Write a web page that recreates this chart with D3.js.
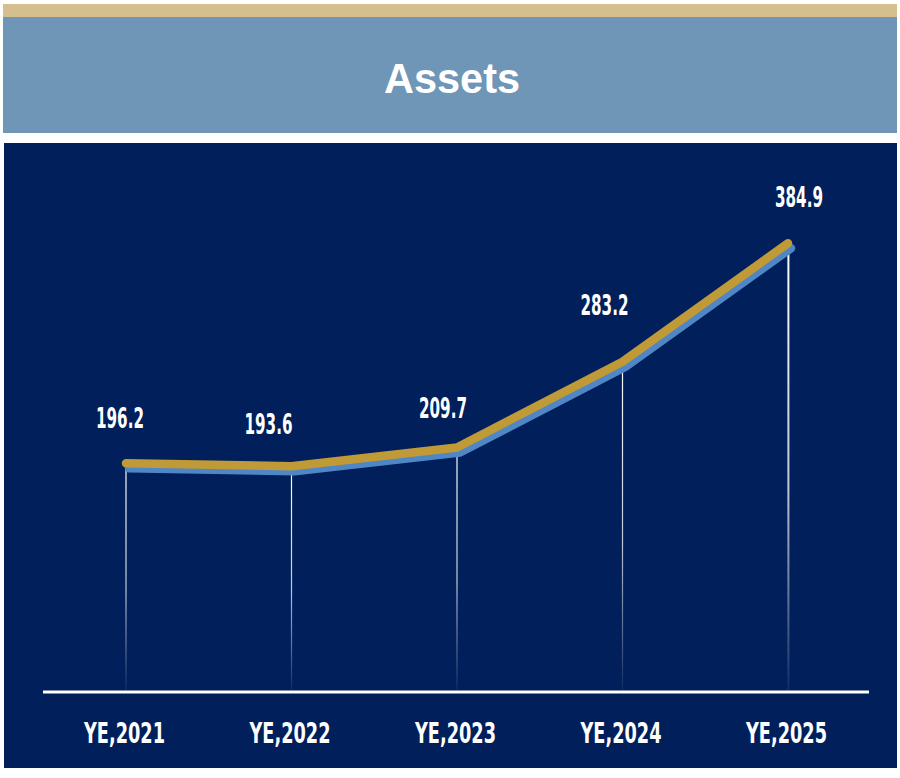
<!DOCTYPE html>
<html>
<head>
<meta charset="utf-8">
<script src="https://cdn.jsdelivr.net/npm/d3@7"></script>
<style>
  body { margin: 0; background: #fff; }
  svg { display: block; }
</style>
</head>
<body>
<script>
var width = 900,
    height = 778;

var title = "Assets";
var years = ["YE,2021", "YE,2022", "YE,2023", "YE,2024", "YE,2025"];
var assets = [196.2, 193.6, 209.7, 283.2, 384.9];

// hand placed label nudges (dx, dy from the point), as in the original slide
var labelNudge = [[-6, -35], [-23, -32], [-14, -29], [-18, -47], [11, -36]];

var svg = d3.select("body").append("svg")
    .attr("width", width)
    .attr("height", height);

// header bands
svg.append("rect").attr("x", 3).attr("y", 4).attr("width", 894).attr("height", 14).attr("fill", "#d6bf8e");
svg.append("rect").attr("x", 3).attr("y", 17).attr("width", 894).attr("height", 116).attr("fill", "#7096b7");
svg.append("text")
    .attr("x", 452).attr("y", 93)
    .attr("text-anchor", "middle")
    .attr("fill", "#fff")
    .attr("textLength", 136)
    .attr("lengthAdjust", "spacingAndGlyphs")
    .style("font-family", "'Liberation Sans', Arial, sans-serif")
    .style("font-weight", "bold")
    .style("font-size", "43px")
    .text(title);

// navy panel
svg.append("rect").attr("x", 4).attr("y", 143).attr("width", 893).attr("height", 625).attr("fill", "#001f5b");

var x = d3.scalePoint()
    .domain(years)
    .range([126, 788]);

var y = d3.scaleLinear()
    .domain([0, 400])
    .range([692, 225.6]);

var defs = svg.append("defs");
var labelFont = "'DejaVu Sans Condensed', 'DejaVu Sans', sans-serif";

// drop lines, fading toward the axis
years.forEach(function(d, i) {
  var id = "fade" + i;
  var g = defs.append("linearGradient")
      .attr("id", id)
      .attr("gradientUnits", "userSpaceOnUse")
      .attr("x1", 0).attr("x2", 0)
      .attr("y1", y(assets[i])).attr("y2", y(0));
  g.append("stop").attr("offset", "0%").attr("stop-color", "#fff").attr("stop-opacity", 1);
  g.append("stop").attr("offset", "55%").attr("stop-color", "#fff").attr("stop-opacity", 0.75);
  g.append("stop").attr("offset", "100%").attr("stop-color", "#fff").attr("stop-opacity", 0.05);
  svg.append("rect")
      .attr("x", x(d) - 0.6)
      .attr("y", y(assets[i]))
      .attr("width", i == 4 ? 2 : 1.2)
      .attr("height", y(0) - y(assets[i]))
      .attr("fill", "url(#" + id + ")");
});

var line = d3.line()
    .x(function(d, i) { return x(years[i]); })
    .y(function(d) { return y(d); });

// blue shadow line then gold line
svg.append("path")
    .datum(assets)
    .attr("d", line)
    .attr("transform", "translate(3,5)")
    .attr("fill", "none")
    .attr("stroke", "#4f86c6")
    .attr("stroke-width", 8.5)
    .attr("stroke-linecap", "round")
    .attr("stroke-linejoin", "round");

svg.append("path")
    .datum(assets)
    .attr("d", line)
    .attr("fill", "none")
    .attr("stroke", "#c09a37")
    .attr("stroke-width", 8.5)
    .attr("stroke-linecap", "round")
    .attr("stroke-linejoin", "round");

// value labels
svg.selectAll(".val")
    .data(assets)
    .enter().append("text")
    .attr("class", "val")
    .attr("x", function(d, i) { return x(years[i]) + labelNudge[i][0]; })
    .attr("y", function(d, i) { return y(d) + labelNudge[i][1]; })
    .attr("text-anchor", "middle")
    .attr("fill", "#fff")
    .attr("textLength", 48)
    .attr("lengthAdjust", "spacingAndGlyphs")
    .style("font-family", labelFont)
    .style("font-weight", "bold")
    .style("font-size", "28px")
    .text(function(d) { return d.toFixed(1); });

// x axis
var axis = svg.append("g")
    .attr("transform", "translate(0," + y(0) + ")")
    .call(d3.axisBottom(x).tickSize(0));
axis.select(".domain").remove();
axis.append("line")
    .attr("x1", 43).attr("x2", 869)
    .attr("y1", 0).attr("y2", 0)
    .attr("stroke", "#fff")
    .attr("stroke-width", 3);
axis.selectAll(".tick text")
    .attr("x", -2)
    .attr("y", 51)
    .attr("dy", null)
    .attr("fill", "#fff")
    .attr("textLength", 81)
    .attr("lengthAdjust", "spacingAndGlyphs")
    .style("font-family", labelFont)
    .style("font-weight", "bold")
    .style("font-size", "29px");
</script>
</body>
</html>
